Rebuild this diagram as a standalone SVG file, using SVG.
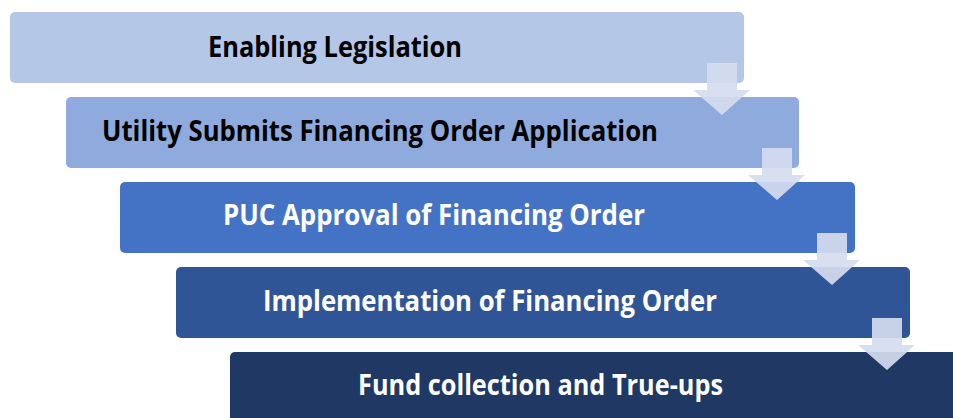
<svg xmlns="http://www.w3.org/2000/svg" width="953" height="418" viewBox="0 0 953 418">
<style>
.t{font-family:"Open Sans","Liberation Sans",sans-serif;font-weight:bold;font-size:28px}
.dk{fill:#000}
.lt{fill:#fff}
.arr{fill:#d5dcef;fill-opacity:0.92}
</style>
<rect width="953" height="418" fill="#fff"/>
<g id="n1"><rect x="10" y="12" width="734" height="71" rx="5" fill="#b4c7e7"/>
<text class="t dk" x="208" y="57" textLength="254" lengthAdjust="spacingAndGlyphs">Enabling Legislation</text></g>
<g id="n2"><rect x="66" y="97" width="733" height="71" rx="5" fill="#8faadc"/>
<text class="t dk" x="102" y="141" textLength="556" lengthAdjust="spacingAndGlyphs">Utility Submits Financing Order Application</text></g>
<g id="n3"><rect x="120" y="182" width="735" height="71" rx="5" fill="#4472c4"/>
<text class="t lt" x="223" y="225" textLength="422" lengthAdjust="spacingAndGlyphs">PUC Approval of Financing Order</text></g>
<g id="n4"><rect x="176" y="267" width="734" height="71" rx="5" fill="#2f5597"/>
<text class="t lt" x="263" y="311" textLength="454" lengthAdjust="spacingAndGlyphs">Implementation of Financing Order</text></g>
<g id="n5"><rect x="230" y="352" width="740" height="80" rx="5" fill="#203864"/>
<text class="t lt" x="358" y="395" textLength="365" lengthAdjust="spacingAndGlyphs">Fund collection and True-ups</text></g>
<g id="connectors">
<path class="arr" d="M707 63H737V90H750L722 115L693 90H707Z"/>
<path class="arr" d="M762 148H792V175H805L777 200L748 175H762Z"/>
<path class="arr" d="M817 233H847V260H860L832 285L803 260H817Z"/>
<path class="arr" d="M872 318H902V345H915L887 370L858 345H872Z"/>
</g>
</svg>
